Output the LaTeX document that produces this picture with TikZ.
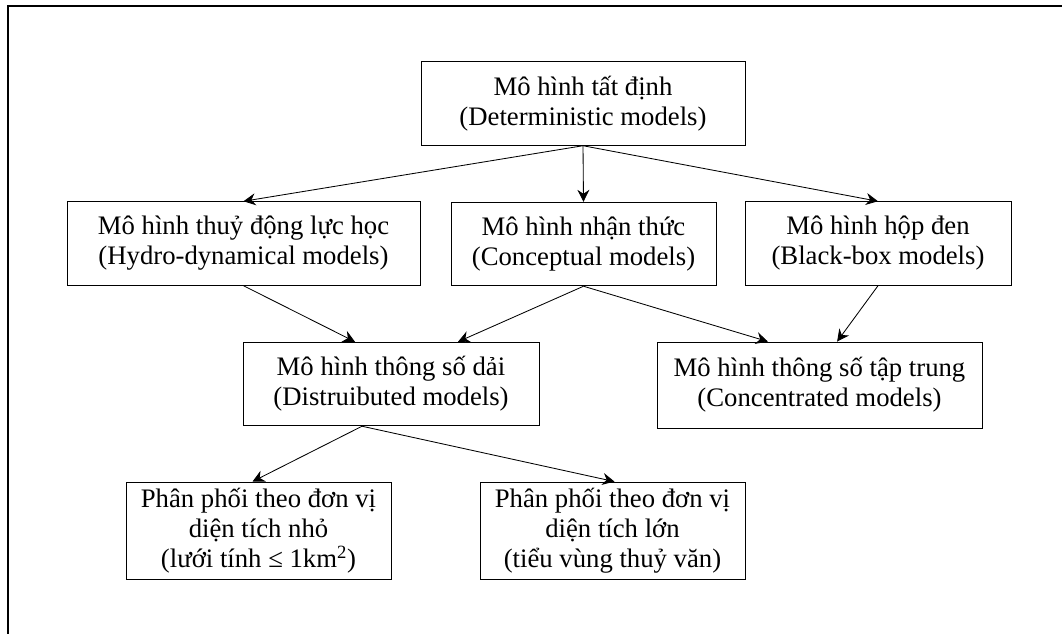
\documentclass[tikz,border=0pt]{standalone}
\usepackage{fontspec}
\setmainfont{Liberation Serif}
\usepackage{tikz}
\usetikzlibrary{arrows.meta,positioning}

\begin{document}
\begin{tikzpicture}[
    x=0.25mm, y=-0.25mm,
    box/.style={rectangle, draw=black, line width=0.6pt, inner sep=0pt,
                minimum height=20.9mm, align=center, font=\fontsize{19}{21.3}\selectfont},
    arr/.style={-{Stealth[length=3mm, width=3mm, inset=1mm]}, line width=0.6pt}
]
    \useasboundingbox (0,0) rectangle (1062,634);
    \draw[line width=1.2pt] (1062,6) -- (8,6) -- (8,634);

    % top level
    \node[box, minimum width=81mm] (det) at (583,103.5) {Mô hình tất định\\(Deterministic models)};

    % second level
    \node[box, minimum width=88.25mm] (hydro) at (243.5,243.5) {Mô hình thuỷ động lực học\\(Hydro-dynamical models)};
    \node[box, minimum width=66.25mm] (concept) at (583.5,244) {Mô hình nhận thức\\(Conceptual models)};
    \node[box, minimum width=66.5mm] (blackbox) at (878,243.5) {Mô hình hộp đen\\(Black-box models)};

    % third level
    \node[box, minimum width=74mm] (distr) at (391,384) {Mô hình thông số dải\\(Distruibuted models)};
    \node[box, minimum width=81.25mm, minimum height=21.5mm] (conc) at (819.5,385) {Mô hình thông số tập trung\\(Concentrated models)};

    % fourth level
    \node[box, minimum width=66.25mm, minimum height=24.25mm] (small) at (258.5,530.5) {Phân phối theo đơn vị\\diện tích nhỏ\\(lưới tính ≤ 1km\textsuperscript{2})};
    \node[box, minimum width=66.25mm, minimum height=24.25mm] (large) at (612.5,530.5) {Phân phối theo đơn vị\\diện tích lớn\\(tiểu vùng thuỷ văn)};

    \draw[arr] (det.south) -- (hydro.north);
    \draw[arr] (det.south) -- (concept.north);
    \draw[arr] (det.south) -- (blackbox.north);

    \draw[arr] (hydro.south) -- ([xshift=-9mm]distr.north);
    \draw[arr] (concept.south) -- ([xshift=16.75mm]distr.north);
    \draw[arr] (concept.south) -- ([xshift=-12.9mm]conc.north);
    \draw[arr] (blackbox.south) -- ([xshift=4.4mm]conc.north);

    \draw[arr] ([xshift=-7.25mm]distr.south) -- ([xshift=-1.5mm]small.north);
    \draw[arr] ([xshift=-7.25mm]distr.south) -- ([xshift=0.5mm]large.north);
\end{tikzpicture}
\end{document}
